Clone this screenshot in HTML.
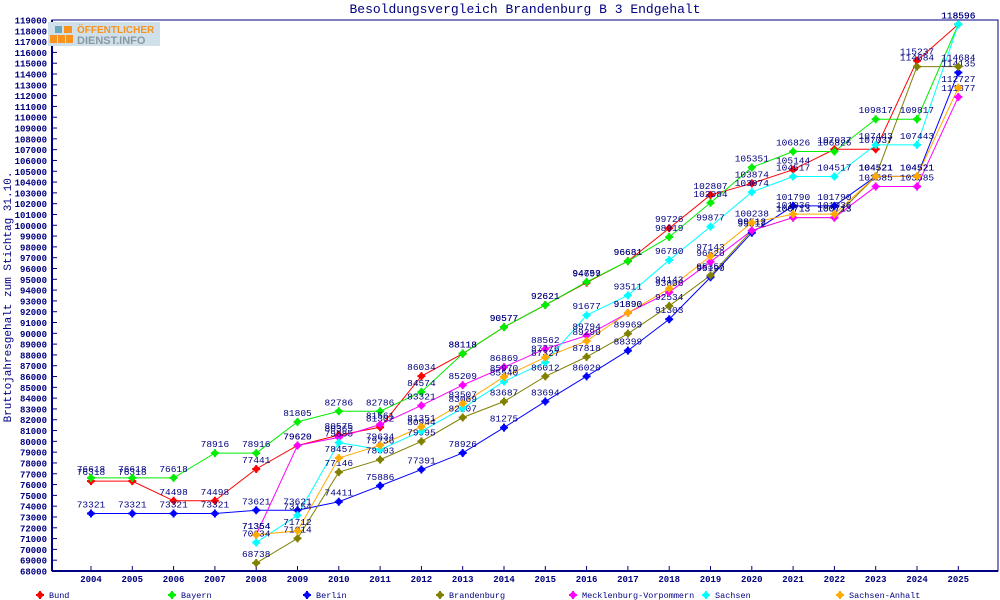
<!DOCTYPE html>
<html><head><meta charset="utf-8"><style>
body{margin:0;background:#fff}
svg{display:block;font-family:"Liberation Mono","DejaVu Sans Mono",monospace}
</style></head><body>
<svg id="s" width="1000" height="600" xmlns="http://www.w3.org/2000/svg">
<rect width="1000" height="600" fill="#fff"/>
<text x="525" y="13" text-anchor="middle" font-size="13" fill="#000080">Besoldungsvergleich Brandenburg B 3 Endgehalt</text>
<text transform="translate(11,297) rotate(-90)" text-anchor="middle" font-size="11" fill="#000080">Bruttojahresgehalt zum Stichtag 31.10.</text>
<g id="g"></g>
<g>
<rect x="48" y="22" width="112" height="24" fill="#cfe0ea"/>
<rect x="55" y="26" width="7" height="7" fill="#6aa9bb"/>
<rect x="64" y="26" width="8" height="7" fill="#f7931e"/>
<rect x="50" y="35" width="7" height="8" fill="#f7931e"/>
<rect x="58" y="35" width="7" height="8" fill="#f7931e"/>
<rect x="66" y="35" width="7" height="8" fill="#f7931e"/>
<text x="77" y="33" font-family="Liberation Sans,sans-serif" font-weight="bold" font-size="10" fill="#f7931e">ÖFFENTLICHER</text>
<text x="77" y="44" font-family="Liberation Sans,sans-serif" font-weight="bold" font-size="11" fill="#8a99a3">DIENST.INFO</text>
</g>
</svg>
<script>
const NS="http://www.w3.org/2000/svg",g=document.getElementById('g');
function el(t,a,txt){const e=document.createElementNS(NS,t);for(const k in a)e.setAttribute(k,a[k]);if(txt!==undefined)e.textContent=txt;g.appendChild(e);return e;}
const L=52,R=998,T=20,B=571;
const X=y=>91+(y-2004)*41.3, Y=v=>B-(v-68000)*(B-T)/51000;
el('rect',{x:L,y:T,width:R-L,height:B-T,fill:'none',stroke:'#000080','stroke-width':1});
el('line',{x1:L,y1:B,x2:R,y2:B,stroke:'#000080','stroke-width':2});
el('line',{x1:L,y1:T,x2:L,y2:B,stroke:'#000080','stroke-width':2});
for(let v=68000;v<=119000;v+=1000){const y=Y(v);el('line',{x1:L,y1:y,x2:L+5,y2:y,stroke:'#000080'});el('text',{x:47,y:y+3.5,'text-anchor':'end','font-size':9,'font-weight':'bold',fill:'#000080'},v);}
for(let yr=2004;yr<=2025;yr++){const x=X(yr);el('line',{x1:x,y1:B,x2:x,y2:B-5,stroke:'#000080'});el('text',{x:x,y:582,'text-anchor':'middle','font-size':9,'font-weight':'bold',fill:'#000080'},yr);}
const S=[
['Bund','#ff0000',2004,[76318,76318,74498,74498,77441,79620,80575,81302,86034,88118,90577,92621,94697,96681,99726,102807,103874,105144,107037,107037,115237,118596]],
['Bayern','#00ee00',2004,[76618,76618,76618,78916,78916,81805,82786,82786,84574,88118,90577,92621,94759,96681,98919,102084,105351,106826,106826,109817,109817,118596]],
['Berlin','#0000ff',2004,[73321,73321,73321,73321,73621,73621,74411,75886,77391,78926,81275,83694,86020,88399,91303,95190,99312,101790,101790,104521,104521,114135]],
['Brandenburg','#808000',2008,[68738,71014,77146,78303,79995,82207,83687,86012,87818,89969,92534,95357,99512,100713,100713,104521,114684,114684]],
['Mecklenburg-Vorpommern','#ff00ff',2008,[71354,79620,80365,81561,83321,85209,86869,88562,89794,91890,93806,96620,99512,100713,100713,103585,103585,111877]],
['Sachsen','#00ffff',2008,[70634,73154,79885,79236,80944,83069,85540,87327,91677,93511,96780,99877,103074,104517,104517,107443,107443,118596]],
['Sachsen-Anhalt','#ffaa00',2008,[71354,71712,78457,79634,81351,83507,85970,87776,89290,91890,94143,97143,100238,101036,101036,104521,104521,112727]]];
function mk(x,y,c){el('circle',{cx:x,cy:y,r:3,fill:c});el('path',{d:`M${x-4} ${y}H${x+4}M${x} ${y-4}V${y+4}`,stroke:c,'stroke-width':2});}
S.forEach(s=>{const p=s[3].map((v,i)=>[X(s[2]+i),Y(v)]);el('polyline',{points:p.map(q=>q.join(',')).join(' '),fill:'none',stroke:s[1],'stroke-width':1});});
S.forEach(s=>{s[3].forEach((v,i)=>{const x=X(s[2]+i),y=Y(v);mk(x,y,s[1]);el('text',{x:x,y:y-6,'text-anchor':'middle','font-size':9.5,fill:'#000080'},v);});});
const lx=[40,172,307,440,573,706,840];
S.forEach((s,i)=>{mk(lx[i],595,s[1]);el('text',{x:lx[i]+9,y:598,'font-size':8.5,fill:'#000080'},s[0]);});
</script>
</body></html>
